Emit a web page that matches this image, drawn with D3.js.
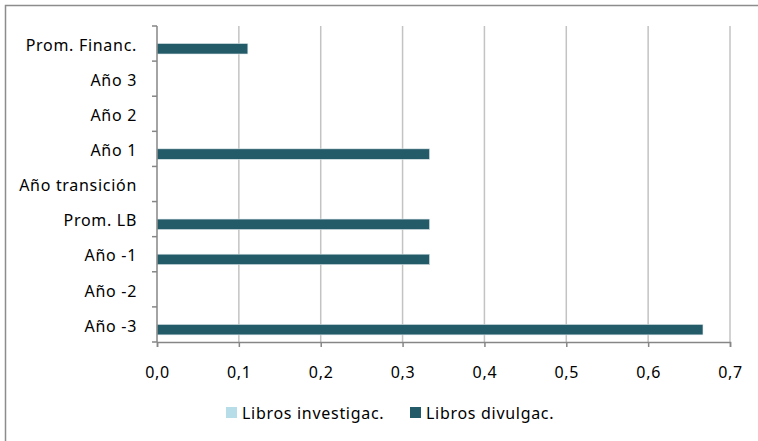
<!DOCTYPE html>
<html>
<head>
<meta charset="utf-8">
<script src="https://cdn.jsdelivr.net/npm/d3@7"></script>
<style>
  body { margin: 0; background: #fff; }
  text { font-family: "Noto Sans", sans-serif; fill: #000; letter-spacing: 0.7px; }
</style>
</head>
<body>
<div id="chart"></div>
<script>
// categories listed top to bottom
var categories = ["Prom. Financ.", "Año 3", "Año 2", "Año 1", "Año transición", "Prom. LB", "Año -1", "Año -2", "Año -3"];
var seriesNames = ["Libros investigac.", "Libros divulgac."];
var seriesColors = ["#b7dde8", "#245b69"];
var investigac = [0, 0, 0, 0, 0, 0, 0, 0, 0];
var divulgac = [0.111, 0, 0, 0.333, 0, 0.333, 0.333, 0, 0.667];
var xTicks = [0, 0.1, 0.2, 0.3, 0.4, 0.5, 0.6, 0.7];

function init() {
    var w = 758;
    var h = 441;
    var left = 157, right = 730, top = 26, bottom = 342;
    var fs = 16;

    var svg = d3.select("#chart")
        .append("svg")
        .attr("width", w)
        .attr("height", h);

    // outer frame (only top and left visible)
    svg.append("path")
        .attr("d", "M5.5," + h + "V5.5H" + w)
        .attr("fill", "none")
        .attr("stroke", "#8c8c8c")
        .attr("stroke-width", 1.5);

    var xScale = d3.scaleLinear()
        .domain([0, 0.7])
        .range([left, right]);

    var yScale = d3.scaleBand()
        .domain(categories)
        .range([top, bottom]);

    var inner = d3.scaleBand()
        .domain(d3.range(seriesNames.length))
        .range([7, 28]);

    // gridlines
    svg.selectAll(".grid")
        .data(xTicks.slice(1))
        .enter()
        .append("line")
        .attr("x1", function (d) { return xScale(d); })
        .attr("x2", function (d) { return xScale(d); })
        .attr("y1", top)
        .attr("y2", bottom)
        .attr("stroke", "#c3c3c3")
        .attr("stroke-width", 1.5);

    var data = [investigac, divulgac];
    data.forEach(function (vals, s) {
        svg.selectAll(".bar" + s)
            .data(vals)
            .enter()
            .append("rect")
            .attr("x", xScale(0))
            .attr("y", function (d, i) { return yScale(categories[i]) + inner(s); })
            .attr("width", function (d) { return xScale(d) - xScale(0); })
            .attr("height", inner.bandwidth())
            .attr("fill", seriesColors[s])
            .attr("stroke", function (d) { return d > 0 ? "#dfe9ec" : "none"; })
            .attr("stroke-width", 0.6);
    });

    // x axis
    var xAxis = d3.axisBottom(xScale)
        .tickValues(xTicks)
        .tickSize(5)
        .tickPadding(20)
        .tickFormat(function (d) { return d3.format(".1f")(d).replace(".", ","); });

    var gx = svg.append("g")
        .attr("transform", "translate(0," + bottom + ")")
        .call(xAxis);
    gx.select(".domain").attr("stroke", "#868686").attr("stroke-width", 1.5);
    gx.selectAll("line").attr("stroke", "#868686").attr("stroke-width", 1.5);
    gx.selectAll("text").attr("font-size", fs).attr("font-family", "'Noto Sans', sans-serif").attr("fill", "#000");

    // y axis: ticks at band boundaries
    var gy = svg.append("g");
    gy.append("line")
        .attr("x1", left).attr("x2", left)
        .attr("y1", top).attr("y2", bottom)
        .attr("stroke", "#868686")
        .attr("stroke-width", 1.5);
    gy.selectAll(".ytick")
        .data(categories.concat(["end"]))
        .enter()
        .append("line")
        .attr("x1", left - 5).attr("x2", left)
        .attr("y1", function (d, i) { return top + i * yScale.step(); })
        .attr("y2", function (d, i) { return top + i * yScale.step(); })
        .attr("stroke", "#868686")
        .attr("stroke-width", 1.5);
    gy.selectAll(".ylabel")
        .data(categories)
        .enter()
        .append("text")
        .attr("x", 137)
        .attr("y", function (d) { return yScale(d) + yScale.bandwidth() / 2; })
        .attr("dy", "0.45em")
        .attr("text-anchor", "end")
        .attr("font-size", fs)
        .text(function (d) { return d; });

    // legend
    var legendX = [226, 410];
    var lg = svg.selectAll(".legend")
        .data(seriesNames)
        .enter()
        .append("g")
        .attr("transform", function (d, i) { return "translate(" + legendX[i] + ",407)"; });
    lg.append("rect")
        .attr("width", 11)
        .attr("height", 11)
        .attr("fill", function (d, i) { return seriesColors[i]; });
    lg.append("text")
        .attr("x", 16)
        .attr("y", 6)
        .attr("dy", "0.35em")
        .attr("font-size", fs)
        .text(function (d) { return d; });
}

window.onload = init;
</script>
</body>
</html>
